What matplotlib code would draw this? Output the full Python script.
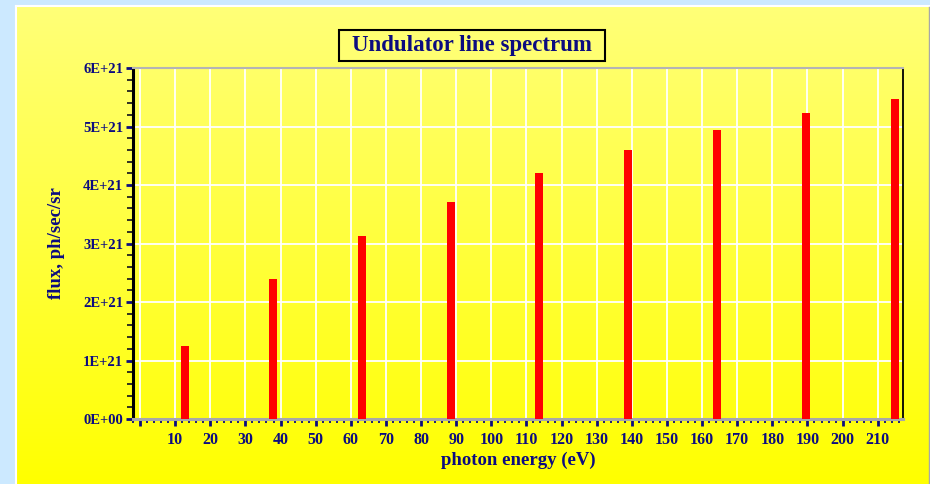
import numpy as np
import matplotlib
matplotlib.use("Agg")
from matplotlib import pyplot as plt
from matplotlib.patches import Rectangle
from matplotlib.ticker import MultipleLocator, FuncFormatter

# harmonic lines of the undulator
energy = [12.7, 37.9, 63.2, 88.5, 113.7, 139.0, 164.3, 189.5, 214.8]   # eV
flux = [1.25e21, 2.39e21, 3.13e21, 3.71e21, 4.20e21, 4.60e21, 4.94e21, 5.23e21, 5.47e21]  # ph/sec/sr

x_ticks = list(range(0, 220, 10))
navy = "#0c0c80"
serif = ["Liberation Serif", "DejaVu Serif"]

plt.rcParams["font.family"] = serif
plt.rcParams["font.weight"] = "bold"

W, H = 930, 484
fig = plt.figure(figsize=(W / 100, H / 100), dpi=100)
fig.patch.set_facecolor("#cce9ff")

# yellow panel with a soft vertical gradient
panel = fig.add_axes([17 / W, 0, (928 - 17) / W, (H - 7) / H], zorder=0)
grad = np.linspace(0, 1, 256).reshape(-1, 1)
top = np.array([1.0, 1.0, 0.47])
bot = np.array([1.0, 1.0, 0.0])
img = top[None, None, :] * (1 - grad[..., None]) + bot[None, None, :] * grad[..., None]
panel.imshow(img, aspect="auto", extent=[0, 1, 0, 1])
panel.set_xlim(0, 1)
panel.set_ylim(0, 1)
panel.set_axis_off()
fig.add_artist(plt.Line2D([16 / W, 16 / W], [0, (H - 6) / H], color="white", lw=1.5))
fig.add_artist(plt.Line2D([16 / W, 929 / W], [(H - 6) / H, (H - 6) / H], color="white", lw=1.5))
fig.add_artist(plt.Line2D([928.5 / W, 928.5 / W], [0, (H - 7) / H], color="#a8a8a8", lw=1))

ax = fig.add_axes([133 / W, (H - 419) / H, (903 - 133) / W, (419 - 68) / H], zorder=2)
ax.set_facecolor("none")
ax.bar(energy, flux, width=2.3, color="red", zorder=3)

ax.set_xlim(-2, 217.2)
ax.set_ylim(0, 6e21)
ax.set_xticks(x_ticks)
ax.xaxis.set_minor_locator(MultipleLocator(2))
ax.yaxis.set_major_locator(MultipleLocator(1e21))
ax.yaxis.set_minor_locator(MultipleLocator(0.2e21))
ax.xaxis.set_major_formatter(FuncFormatter(lambda v, p: "" if v == 0 else f"{v:.0f}"))
ax.yaxis.set_major_formatter(FuncFormatter(lambda v, p: f"{v:.0E}"))

ax.grid(True, which="major", color="white", lw=1.3, zorder=1)
ax.set_axisbelow(True)

ax.tick_params(axis="x", which="major", direction="out", length=5, width=2, color=navy,
               labelsize=11.5, labelcolor=navy, pad=4)
ax.tick_params(axis="x", which="minor", direction="out", length=3, width=1.3, color=navy)
ax.tick_params(axis="y", which="major", direction="out", length=5, width=2, color=navy,
               labelsize=10.5, labelcolor=navy, pad=2)
ax.tick_params(axis="y", which="minor", direction="out", length=4, width=1.3, color="#202020")
for lab in ax.get_xticklabels() + ax.get_yticklabels():
    lab.set_fontweight("bold")

ax.spines["left"].set_color("black")
ax.spines["left"].set_linewidth(2.2)
ax.spines["right"].set_color("black")
ax.spines["right"].set_linewidth(1.3)
ax.spines["top"].set_color("#b4b4b4")
ax.spines["top"].set_linewidth(1.5)
ax.spines["bottom"].set_color("#a8a8a8")
ax.spines["bottom"].set_linewidth(2.2)

ax.set_xlabel("photon energy (eV)", fontsize=13.5, color=navy, fontweight="bold", labelpad=3)
ax.set_ylabel("flux, ph/sec/sr", fontsize=13.5, color=navy, fontweight="bold", labelpad=13)

# title in a framed box
fig.add_artist(Rectangle((339 / W, 1 - 61 / H), (605 - 339) / W, 31 / H,
                         transform=fig.transFigure, fc="#ffff72", ec="black", lw=1.5, zorder=4))
fig.text(472 / W, 1 - 46 / H, "Undulator line spectrum", ha="center", va="center",
         fontsize=16.5, color=navy, fontweight="bold", zorder=5)

fig.savefig("out.png", dpi=100, facecolor=fig.get_facecolor())
